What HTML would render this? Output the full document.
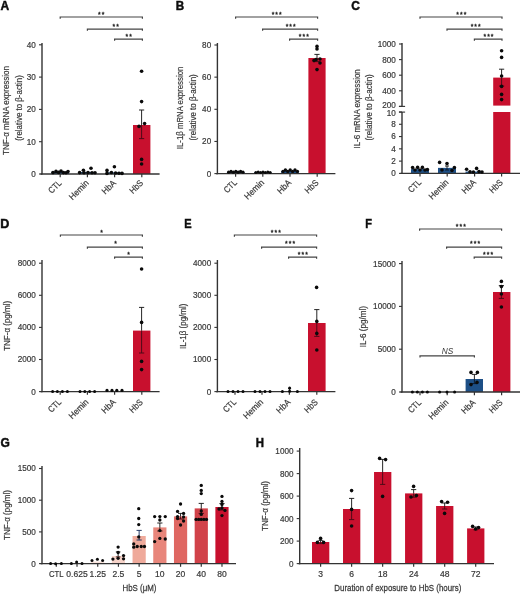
<!DOCTYPE html>
<html lang="en">
<head>
<meta charset="utf-8">
<title>Figure</title>
<style>
html,body{margin:0;padding:0;background:#fff;}
body{width:520px;height:594px;overflow:hidden;}
#fig{width:520px;height:594px;overflow:hidden;background:#fff;}
svg{display:block;font-family:"Liberation Sans",sans-serif;filter:blur(0.35px);}
</style>
</head>
<body>
<div id="fig">
<svg width="530" height="604" viewBox="0 0 530 604" role="img" aria-label="Bar charts, panels A to H">
<rect x="0" y="0" width="530" height="604" fill="#ffffff"/>
<g id="panelA">
<text transform="translate(0.5 9.75)" font-size="12" text-anchor="start" fill="#0d0d0d" font-weight="bold" stroke="#0d0d0d" stroke-width="0.45">A</text>
<rect x="51.5" y="171.74" width="17.5" height="2.26" fill="#1d4f86"/>
<rect x="78.7" y="172.06" width="17.5" height="1.94" fill="#1d4f86"/>
<rect x="105.9" y="172.38" width="17.5" height="1.62" fill="#1d4f86"/>
<rect x="133" y="125" width="17.4" height="49" fill="#c8102e"/>
<line x1="42" y1="43" x2="42" y2="174.6" stroke="#333333" stroke-width="1.4" stroke-linecap="butt"/>
<line x1="39" y1="174" x2="42" y2="174" stroke="#333333" stroke-width="1.1" stroke-linecap="butt"/>
<text transform="translate(35.8 176.9) scale(0.95 1)" font-size="8.6" text-anchor="end" fill="#383838" stroke="#383838" stroke-width="0.2">0</text>
<line x1="39" y1="141.7" x2="42" y2="141.7" stroke="#333333" stroke-width="1.1" stroke-linecap="butt"/>
<text transform="translate(35.8 144.6) scale(0.95 1)" font-size="8.6" text-anchor="end" fill="#383838" stroke="#383838" stroke-width="0.2">10</text>
<line x1="39" y1="109.4" x2="42" y2="109.4" stroke="#333333" stroke-width="1.1" stroke-linecap="butt"/>
<text transform="translate(35.8 112.3) scale(0.95 1)" font-size="8.6" text-anchor="end" fill="#383838" stroke="#383838" stroke-width="0.2">20</text>
<line x1="39" y1="77.1" x2="42" y2="77.1" stroke="#333333" stroke-width="1.1" stroke-linecap="butt"/>
<text transform="translate(35.8 80) scale(0.95 1)" font-size="8.6" text-anchor="end" fill="#383838" stroke="#383838" stroke-width="0.2">30</text>
<line x1="39" y1="44.8" x2="42" y2="44.8" stroke="#333333" stroke-width="1.1" stroke-linecap="butt"/>
<text transform="translate(35.8 47.7) scale(0.95 1)" font-size="8.6" text-anchor="end" fill="#383838" stroke="#383838" stroke-width="0.2">40</text>
<line x1="40.5" y1="174" x2="159.6" y2="174" stroke="#333333" stroke-width="1.4" stroke-linecap="butt"/>
<line x1="60.2" y1="174" x2="60.2" y2="177.2" stroke="#333333" stroke-width="1.2" stroke-linecap="butt"/>
<text transform="translate(62.1 183.6) rotate(-45) scale(0.88 1)" font-size="8.8" text-anchor="end" fill="#383838" stroke="#383838" stroke-width="0.2">CTL</text>
<line x1="87.4" y1="174" x2="87.4" y2="177.2" stroke="#333333" stroke-width="1.2" stroke-linecap="butt"/>
<text transform="translate(89.3 183.6) rotate(-45) scale(0.94 1)" font-size="8.8" text-anchor="end" fill="#383838" stroke="#383838" stroke-width="0.2">Hemin</text>
<line x1="114.6" y1="174" x2="114.6" y2="177.2" stroke="#333333" stroke-width="1.2" stroke-linecap="butt"/>
<text transform="translate(116.5 183.6) rotate(-45) scale(0.93 1)" font-size="8.8" text-anchor="end" fill="#383838" stroke="#383838" stroke-width="0.2">HbA</text>
<line x1="141.8" y1="174" x2="141.8" y2="177.2" stroke="#333333" stroke-width="1.2" stroke-linecap="butt"/>
<text transform="translate(143.7 183.6) rotate(-45) scale(0.89 1)" font-size="8.8" text-anchor="end" fill="#383838" stroke="#383838" stroke-width="0.2">HbS</text>
<line x1="141.6" y1="110" x2="141.6" y2="125" stroke="#1a1a1a" stroke-width="0.95" stroke-linecap="butt"/>
<line x1="141.6" y1="125" x2="141.6" y2="138.6" stroke="#4a0a16" stroke-width="0.95" stroke-linecap="butt"/>
<line x1="139" y1="110" x2="144.2" y2="110" stroke="#1a1a1a" stroke-width="0.95" stroke-linecap="butt"/>
<line x1="139" y1="138.6" x2="144.2" y2="138.6" stroke="#4a0a16" stroke-width="0.95" stroke-linecap="butt"/>
<circle cx="141.6" cy="71.2" r="1.8" fill="#0a0a0a"/>
<circle cx="141.6" cy="101.6" r="1.8" fill="#0a0a0a"/>
<circle cx="144.6" cy="123.6" r="1.8" fill="#0a0a0a"/>
<circle cx="139" cy="126.4" r="1.8" fill="#0a0a0a"/>
<circle cx="141.6" cy="159.4" r="1.8" fill="#0a0a0a"/>
<circle cx="141.6" cy="164" r="1.8" fill="#0a0a0a"/>
<circle cx="114.4" cy="166.8" r="1.8" fill="#0a0a0a"/>
<circle cx="107" cy="170.4" r="1.8" fill="#0a0a0a"/>
<circle cx="107" cy="173.4" r="1.8" fill="#0a0a0a"/>
<circle cx="111.4" cy="172.5" r="1.8" fill="#0a0a0a"/>
<circle cx="115.6" cy="173" r="1.8" fill="#0a0a0a"/>
<circle cx="119" cy="173.2" r="1.8" fill="#0a0a0a"/>
<circle cx="122" cy="173.4" r="1.8" fill="#0a0a0a"/>
<circle cx="91" cy="168.2" r="1.8" fill="#0a0a0a"/>
<circle cx="83.4" cy="170.2" r="1.8" fill="#0a0a0a"/>
<circle cx="79.6" cy="172.6" r="1.8" fill="#0a0a0a"/>
<circle cx="84" cy="172.8" r="1.8" fill="#0a0a0a"/>
<circle cx="88" cy="172.6" r="1.8" fill="#0a0a0a"/>
<circle cx="92" cy="172.8" r="1.8" fill="#0a0a0a"/>
<circle cx="95" cy="172.8" r="1.8" fill="#0a0a0a"/>
<circle cx="53" cy="172.6" r="1.8" fill="#0a0a0a"/>
<circle cx="56" cy="171.4" r="1.8" fill="#0a0a0a"/>
<circle cx="58.6" cy="172.4" r="1.8" fill="#0a0a0a"/>
<circle cx="61" cy="171" r="1.8" fill="#0a0a0a"/>
<circle cx="63.4" cy="172.6" r="1.8" fill="#0a0a0a"/>
<circle cx="66" cy="172.8" r="1.8" fill="#0a0a0a"/>
<circle cx="68" cy="171.6" r="1.8" fill="#0a0a0a"/>
<path d="M60.2 18.7V17H142.4V18.7" fill="none" stroke="#444444" stroke-width="1.2"/>
<text x="101.8" y="16.99" font-size="6.8" text-anchor="middle" letter-spacing="1.05" fill="#222" stroke="#222" stroke-width="0.3">**</text>
<path d="M87.4 30.8V29.1H142.4V30.8" fill="none" stroke="#444444" stroke-width="1.2"/>
<text x="116.2" y="28.59" font-size="6.8" text-anchor="middle" letter-spacing="1.05" fill="#222" stroke="#222" stroke-width="0.3">**</text>
<path d="M114.6 40.8V39.1H142.4V40.8" fill="none" stroke="#444444" stroke-width="1.2"/>
<text x="129.2" y="38.99" font-size="6.8" text-anchor="middle" letter-spacing="1.05" fill="#222" stroke="#222" stroke-width="0.3">**</text>
<text transform="translate(9.3 110.5) rotate(-90) scale(0.87 1)" font-size="9.2" text-anchor="middle" fill="#383838" stroke="#383838" stroke-width="0.2">TNF-α mRNA expression</text>
<text transform="translate(21.6 108) rotate(-90) scale(0.86 1)" font-size="9.2" text-anchor="middle" fill="#383838" stroke="#383838" stroke-width="0.2">(relative to β-actin)</text>
</g>
<g id="panelB">
<text transform="translate(175.7 9.75) scale(0.97 1)" font-size="12" text-anchor="start" fill="#0d0d0d" font-weight="bold" stroke="#0d0d0d" stroke-width="0.45">B</text>
<rect x="226.9" y="171.99" width="17.5" height="1.61" fill="#1d4f86"/>
<rect x="254" y="172.31" width="17.5" height="1.29" fill="#1d4f86"/>
<rect x="281.2" y="171.03" width="17.5" height="2.57" fill="#1d4f86"/>
<rect x="308.4" y="58" width="17.2" height="115.6" fill="#c8102e"/>
<line x1="217.4" y1="43" x2="217.4" y2="174.2" stroke="#333333" stroke-width="1.4" stroke-linecap="butt"/>
<line x1="214.4" y1="173.6" x2="217.4" y2="173.6" stroke="#333333" stroke-width="1.1" stroke-linecap="butt"/>
<text transform="translate(211.2 176.5) scale(0.95 1)" font-size="8.6" text-anchor="end" fill="#383838" stroke="#383838" stroke-width="0.2">0</text>
<line x1="214.4" y1="141.45" x2="217.4" y2="141.45" stroke="#333333" stroke-width="1.1" stroke-linecap="butt"/>
<text transform="translate(211.2 144.35) scale(0.95 1)" font-size="8.6" text-anchor="end" fill="#383838" stroke="#383838" stroke-width="0.2">20</text>
<line x1="214.4" y1="109.3" x2="217.4" y2="109.3" stroke="#333333" stroke-width="1.1" stroke-linecap="butt"/>
<text transform="translate(211.2 112.2) scale(0.95 1)" font-size="8.6" text-anchor="end" fill="#383838" stroke="#383838" stroke-width="0.2">40</text>
<line x1="214.4" y1="77.15" x2="217.4" y2="77.15" stroke="#333333" stroke-width="1.1" stroke-linecap="butt"/>
<text transform="translate(211.2 80.05) scale(0.95 1)" font-size="8.6" text-anchor="end" fill="#383838" stroke="#383838" stroke-width="0.2">60</text>
<line x1="214.4" y1="45" x2="217.4" y2="45" stroke="#333333" stroke-width="1.1" stroke-linecap="butt"/>
<text transform="translate(211.2 47.9) scale(0.95 1)" font-size="8.6" text-anchor="end" fill="#383838" stroke="#383838" stroke-width="0.2">80</text>
<line x1="216" y1="173.6" x2="335.4" y2="173.6" stroke="#333333" stroke-width="1.4" stroke-linecap="butt"/>
<line x1="235.6" y1="173.6" x2="235.6" y2="176.8" stroke="#333333" stroke-width="1.2" stroke-linecap="butt"/>
<text transform="translate(237.5 183.2) rotate(-45) scale(0.88 1)" font-size="8.8" text-anchor="end" fill="#383838" stroke="#383838" stroke-width="0.2">CTL</text>
<line x1="262.8" y1="173.6" x2="262.8" y2="176.8" stroke="#333333" stroke-width="1.2" stroke-linecap="butt"/>
<text transform="translate(264.7 183.2) rotate(-45) scale(0.94 1)" font-size="8.8" text-anchor="end" fill="#383838" stroke="#383838" stroke-width="0.2">Hemin</text>
<line x1="290" y1="173.6" x2="290" y2="176.8" stroke="#333333" stroke-width="1.2" stroke-linecap="butt"/>
<text transform="translate(291.9 183.2) rotate(-45) scale(0.93 1)" font-size="8.8" text-anchor="end" fill="#383838" stroke="#383838" stroke-width="0.2">HbA</text>
<line x1="317.2" y1="173.6" x2="317.2" y2="176.8" stroke="#333333" stroke-width="1.2" stroke-linecap="butt"/>
<text transform="translate(319.1 183.2) rotate(-45) scale(0.89 1)" font-size="8.8" text-anchor="end" fill="#383838" stroke="#383838" stroke-width="0.2">HbS</text>
<line x1="317" y1="54.4" x2="317" y2="58" stroke="#1a1a1a" stroke-width="0.95" stroke-linecap="butt"/>
<line x1="317" y1="58" x2="317" y2="61.6" stroke="#4a0a16" stroke-width="0.95" stroke-linecap="butt"/>
<line x1="314.4" y1="54.4" x2="319.6" y2="54.4" stroke="#1a1a1a" stroke-width="0.95" stroke-linecap="butt"/>
<line x1="314.4" y1="61.6" x2="319.6" y2="61.6" stroke="#4a0a16" stroke-width="0.95" stroke-linecap="butt"/>
<circle cx="317" cy="46.4" r="1.8" fill="#0a0a0a"/>
<circle cx="317" cy="49" r="1.8" fill="#0a0a0a"/>
<circle cx="316" cy="59.6" r="1.8" fill="#0a0a0a"/>
<circle cx="320" cy="59" r="1.8" fill="#0a0a0a"/>
<circle cx="314" cy="60.6" r="1.8" fill="#0a0a0a"/>
<circle cx="320" cy="63" r="1.8" fill="#0a0a0a"/>
<circle cx="317" cy="69.6" r="1.8" fill="#0a0a0a"/>
<circle cx="228.6" cy="172.2" r="1.6" fill="#0a0a0a"/>
<circle cx="255.8" cy="172.6" r="1.5" fill="#0a0a0a"/>
<circle cx="283" cy="171.4" r="1.7" fill="#0a0a0a"/>
<circle cx="231" cy="171.4" r="1.6" fill="#0a0a0a"/>
<circle cx="258.2" cy="172.1" r="1.5" fill="#0a0a0a"/>
<circle cx="285.4" cy="170" r="1.7" fill="#0a0a0a"/>
<circle cx="233.4" cy="172.2" r="1.6" fill="#0a0a0a"/>
<circle cx="260.6" cy="172.6" r="1.5" fill="#0a0a0a"/>
<circle cx="287.8" cy="171.4" r="1.7" fill="#0a0a0a"/>
<circle cx="235.8" cy="171.4" r="1.6" fill="#0a0a0a"/>
<circle cx="263" cy="172.1" r="1.5" fill="#0a0a0a"/>
<circle cx="290.2" cy="170" r="1.7" fill="#0a0a0a"/>
<circle cx="238.2" cy="172.2" r="1.6" fill="#0a0a0a"/>
<circle cx="265.4" cy="172.6" r="1.5" fill="#0a0a0a"/>
<circle cx="292.6" cy="171.4" r="1.7" fill="#0a0a0a"/>
<circle cx="240.6" cy="171.4" r="1.6" fill="#0a0a0a"/>
<circle cx="267.8" cy="172.1" r="1.5" fill="#0a0a0a"/>
<circle cx="295" cy="170" r="1.7" fill="#0a0a0a"/>
<circle cx="243" cy="172.2" r="1.6" fill="#0a0a0a"/>
<circle cx="270.2" cy="172.6" r="1.5" fill="#0a0a0a"/>
<circle cx="297.4" cy="171.4" r="1.7" fill="#0a0a0a"/>
<path d="M235.6 18.7V17H317.6V18.7" fill="none" stroke="#444444" stroke-width="1.2"/>
<text x="277.2" y="16.99" font-size="6.8" text-anchor="middle" letter-spacing="1.05" fill="#222" stroke="#222" stroke-width="0.3">***</text>
<path d="M262.6 30.8V29.1H317.6V30.8" fill="none" stroke="#444444" stroke-width="1.2"/>
<text x="291.2" y="28.59" font-size="6.8" text-anchor="middle" letter-spacing="1.05" fill="#222" stroke="#222" stroke-width="0.3">***</text>
<path d="M289.6 40.8V39.1H317.6V40.8" fill="none" stroke="#444444" stroke-width="1.2"/>
<text x="304.4" y="38.99" font-size="6.8" text-anchor="middle" letter-spacing="1.05" fill="#222" stroke="#222" stroke-width="0.3">***</text>
<text transform="translate(183.1 107.95) rotate(-90) scale(0.85 1)" font-size="9.2" text-anchor="middle" fill="#383838" stroke="#383838" stroke-width="0.2">IL-1β mRNA expression</text>
<text transform="translate(195.9 107.4) rotate(-90) scale(0.87 1)" font-size="9.2" text-anchor="middle" fill="#383838" stroke="#383838" stroke-width="0.2">(relative to β-actin)</text>
</g>
<g id="panelC">
<text transform="translate(351.2 9.75)" font-size="12" text-anchor="start" fill="#0d0d0d" font-weight="bold" stroke="#0d0d0d" stroke-width="0.45">C</text>
<rect x="411" y="169.1" width="18" height="4.3" fill="#1d4f86"/>
<rect x="438" y="167.87" width="18" height="5.53" fill="#1d4f86"/>
<rect x="465.5" y="171.56" width="17.5" height="1.84" fill="#1d4f86"/>
<rect x="493.2" y="77.6" width="17.2" height="28" fill="#c8102e"/>
<rect x="493.2" y="112" width="17.2" height="61.4" fill="#c8102e"/>
<line x1="402" y1="43" x2="402" y2="106.4" stroke="#333333" stroke-width="1.4" stroke-linecap="butt"/>
<line x1="399" y1="44" x2="402" y2="44" stroke="#333333" stroke-width="1.1" stroke-linecap="butt"/>
<text transform="translate(395.8 46.9) scale(0.95 1)" font-size="8.6" text-anchor="end" fill="#383838" stroke="#383838" stroke-width="0.2">1000</text>
<line x1="399" y1="59.6" x2="402" y2="59.6" stroke="#333333" stroke-width="1.1" stroke-linecap="butt"/>
<text transform="translate(395.8 62.5) scale(0.95 1)" font-size="8.6" text-anchor="end" fill="#383838" stroke="#383838" stroke-width="0.2">800</text>
<line x1="399" y1="75.2" x2="402" y2="75.2" stroke="#333333" stroke-width="1.1" stroke-linecap="butt"/>
<text transform="translate(395.8 78.1) scale(0.95 1)" font-size="8.6" text-anchor="end" fill="#383838" stroke="#383838" stroke-width="0.2">600</text>
<line x1="399" y1="90.8" x2="402" y2="90.8" stroke="#333333" stroke-width="1.1" stroke-linecap="butt"/>
<text transform="translate(395.8 93.7) scale(0.95 1)" font-size="8.6" text-anchor="end" fill="#383838" stroke="#383838" stroke-width="0.2">400</text>
<line x1="399" y1="106.4" x2="402" y2="106.4" stroke="#333333" stroke-width="1.1" stroke-linecap="butt"/>
<text transform="translate(395.8 108.2) scale(0.95 1)" font-size="8.6" text-anchor="end" fill="#383838" stroke="#383838" stroke-width="0.2">200</text>
<line x1="398.9" y1="106.4" x2="405.1" y2="106.4" stroke="#333333" stroke-width="1.1" stroke-linecap="butt"/>
<line x1="398.9" y1="112.1" x2="405.1" y2="112.1" stroke="#333333" stroke-width="1.1" stroke-linecap="butt"/>
<line x1="402" y1="112" x2="402" y2="174" stroke="#333333" stroke-width="1.4" stroke-linecap="butt"/>
<line x1="399" y1="173.4" x2="402" y2="173.4" stroke="#333333" stroke-width="1.1" stroke-linecap="butt"/>
<text transform="translate(395.8 176.3) scale(0.95 1)" font-size="8.6" text-anchor="end" fill="#383838" stroke="#383838" stroke-width="0.2">0</text>
<line x1="399" y1="161.12" x2="402" y2="161.12" stroke="#333333" stroke-width="1.1" stroke-linecap="butt"/>
<text transform="translate(395.8 164.02) scale(0.95 1)" font-size="8.6" text-anchor="end" fill="#383838" stroke="#383838" stroke-width="0.2">2</text>
<line x1="399" y1="148.84" x2="402" y2="148.84" stroke="#333333" stroke-width="1.1" stroke-linecap="butt"/>
<text transform="translate(395.8 151.74) scale(0.95 1)" font-size="8.6" text-anchor="end" fill="#383838" stroke="#383838" stroke-width="0.2">4</text>
<line x1="399" y1="136.56" x2="402" y2="136.56" stroke="#333333" stroke-width="1.1" stroke-linecap="butt"/>
<text transform="translate(395.8 139.46) scale(0.95 1)" font-size="8.6" text-anchor="end" fill="#383838" stroke="#383838" stroke-width="0.2">6</text>
<line x1="399" y1="124.28" x2="402" y2="124.28" stroke="#333333" stroke-width="1.1" stroke-linecap="butt"/>
<text transform="translate(395.8 127.18) scale(0.95 1)" font-size="8.6" text-anchor="end" fill="#383838" stroke="#383838" stroke-width="0.2">8</text>
<line x1="399" y1="112" x2="402" y2="112" stroke="#333333" stroke-width="1.1" stroke-linecap="butt"/>
<text transform="translate(395.8 115.6) scale(0.95 1)" font-size="8.6" text-anchor="end" fill="#383838" stroke="#383838" stroke-width="0.2">10</text>
<line x1="400.5" y1="173.4" x2="526" y2="173.4" stroke="#333333" stroke-width="1.4" stroke-linecap="butt"/>
<line x1="420" y1="173.4" x2="420" y2="176.6" stroke="#333333" stroke-width="1.2" stroke-linecap="butt"/>
<text transform="translate(421.9 183) rotate(-45) scale(0.88 1)" font-size="8.8" text-anchor="end" fill="#383838" stroke="#383838" stroke-width="0.2">CTL</text>
<line x1="447.2" y1="173.4" x2="447.2" y2="176.6" stroke="#333333" stroke-width="1.2" stroke-linecap="butt"/>
<text transform="translate(449.1 183) rotate(-45) scale(0.94 1)" font-size="8.8" text-anchor="end" fill="#383838" stroke="#383838" stroke-width="0.2">Hemin</text>
<line x1="474.6" y1="173.4" x2="474.6" y2="176.6" stroke="#333333" stroke-width="1.2" stroke-linecap="butt"/>
<text transform="translate(476.5 183) rotate(-45) scale(0.93 1)" font-size="8.8" text-anchor="end" fill="#383838" stroke="#383838" stroke-width="0.2">HbA</text>
<line x1="501.6" y1="173.4" x2="501.6" y2="176.6" stroke="#333333" stroke-width="1.2" stroke-linecap="butt"/>
<text transform="translate(503.5 183) rotate(-45) scale(0.89 1)" font-size="8.8" text-anchor="end" fill="#383838" stroke="#383838" stroke-width="0.2">HbS</text>
<line x1="501.6" y1="69.2" x2="501.6" y2="77.6" stroke="#1a1a1a" stroke-width="0.95" stroke-linecap="butt"/>
<line x1="501.6" y1="77.6" x2="501.6" y2="86" stroke="#4a0a16" stroke-width="0.95" stroke-linecap="butt"/>
<line x1="499" y1="69.2" x2="504.2" y2="69.2" stroke="#1a1a1a" stroke-width="0.95" stroke-linecap="butt"/>
<line x1="499" y1="86" x2="504.2" y2="86" stroke="#4a0a16" stroke-width="0.95" stroke-linecap="butt"/>
<circle cx="501.6" cy="50.8" r="1.8" fill="#0a0a0a"/>
<circle cx="501.6" cy="57.4" r="1.8" fill="#0a0a0a"/>
<circle cx="501.6" cy="76" r="1.8" fill="#0a0a0a"/>
<circle cx="501.6" cy="86.4" r="1.8" fill="#0a0a0a"/>
<circle cx="501.6" cy="94.4" r="1.8" fill="#0a0a0a"/>
<circle cx="501.6" cy="99.6" r="1.8" fill="#0a0a0a"/>
<line x1="447" y1="166" x2="447" y2="167.87" stroke="#1a1a1a" stroke-width="0.95" stroke-linecap="butt"/>
<line x1="447" y1="167.87" x2="447" y2="170" stroke="#0c1a2c" stroke-width="0.95" stroke-linecap="butt"/>
<line x1="445" y1="166" x2="449" y2="166" stroke="#1a1a1a" stroke-width="0.95" stroke-linecap="butt"/>
<line x1="445" y1="170" x2="449" y2="170" stroke="#0c1a2c" stroke-width="0.95" stroke-linecap="butt"/>
<circle cx="439.6" cy="162.4" r="1.8" fill="#0a0a0a"/>
<circle cx="447" cy="163.6" r="1.8" fill="#0a0a0a"/>
<circle cx="454.4" cy="167.6" r="1.8" fill="#0a0a0a"/>
<circle cx="442" cy="170" r="1.8" fill="#0a0a0a"/>
<circle cx="452" cy="170.5" r="1.8" fill="#0a0a0a"/>
<circle cx="466.6" cy="169.2" r="1.8" fill="#0a0a0a"/>
<circle cx="476.6" cy="168.4" r="1.8" fill="#0a0a0a"/>
<circle cx="470" cy="171.8" r="1.8" fill="#0a0a0a"/>
<circle cx="473.4" cy="172" r="1.8" fill="#0a0a0a"/>
<circle cx="479" cy="171.6" r="1.8" fill="#0a0a0a"/>
<circle cx="482" cy="172" r="1.8" fill="#0a0a0a"/>
<circle cx="412.6" cy="167.6" r="1.8" fill="#0a0a0a"/>
<circle cx="417.6" cy="167.4" r="1.8" fill="#0a0a0a"/>
<circle cx="422.4" cy="167.4" r="1.8" fill="#0a0a0a"/>
<circle cx="427.4" cy="169.6" r="1.8" fill="#0a0a0a"/>
<circle cx="415" cy="170" r="1.8" fill="#0a0a0a"/>
<circle cx="420" cy="170" r="1.8" fill="#0a0a0a"/>
<circle cx="425" cy="170" r="1.8" fill="#0a0a0a"/>
<path d="M420 18.7V17H502V18.7" fill="none" stroke="#444444" stroke-width="1.2"/>
<text x="461.8" y="16.99" font-size="6.8" text-anchor="middle" letter-spacing="1.05" fill="#222" stroke="#222" stroke-width="0.3">***</text>
<path d="M447 30.8V29.1H502V30.8" fill="none" stroke="#444444" stroke-width="1.2"/>
<text x="476.2" y="28.59" font-size="6.8" text-anchor="middle" letter-spacing="1.05" fill="#222" stroke="#222" stroke-width="0.3">***</text>
<path d="M474.4 40.8V39.1H502V40.8" fill="none" stroke="#444444" stroke-width="1.2"/>
<text x="489" y="38.99" font-size="6.8" text-anchor="middle" letter-spacing="1.05" fill="#222" stroke="#222" stroke-width="0.3">***</text>
<text transform="translate(359.6 108.85) rotate(-90) scale(0.86 1)" font-size="9.2" text-anchor="middle" fill="#383838" stroke="#383838" stroke-width="0.2">IL-6 mRNA expression</text>
<text transform="translate(371.5 107.4) rotate(-90) scale(0.87 1)" font-size="9.2" text-anchor="middle" fill="#383838" stroke="#383838" stroke-width="0.2">(relative to β-actin)</text>
</g>
<g id="panelD">
<text transform="translate(0.3 227.75) scale(1.05 1)" font-size="12" text-anchor="start" fill="#0d0d0d" font-weight="bold" stroke="#0d0d0d" stroke-width="0.45">D</text>
<rect x="133" y="330.6" width="17.4" height="61" fill="#c8102e"/>
<line x1="42" y1="260" x2="42" y2="392.2" stroke="#333333" stroke-width="1.4" stroke-linecap="butt"/>
<line x1="39" y1="391.6" x2="42" y2="391.6" stroke="#333333" stroke-width="1.1" stroke-linecap="butt"/>
<text transform="translate(35.8 394.5) scale(0.95 1)" font-size="8.6" text-anchor="end" fill="#383838" stroke="#383838" stroke-width="0.2">0</text>
<line x1="39" y1="359.5" x2="42" y2="359.5" stroke="#333333" stroke-width="1.1" stroke-linecap="butt"/>
<text transform="translate(35.8 362.4) scale(0.95 1)" font-size="8.6" text-anchor="end" fill="#383838" stroke="#383838" stroke-width="0.2">2000</text>
<line x1="39" y1="327.4" x2="42" y2="327.4" stroke="#333333" stroke-width="1.1" stroke-linecap="butt"/>
<text transform="translate(35.8 330.3) scale(0.95 1)" font-size="8.6" text-anchor="end" fill="#383838" stroke="#383838" stroke-width="0.2">4000</text>
<line x1="39" y1="295.3" x2="42" y2="295.3" stroke="#333333" stroke-width="1.1" stroke-linecap="butt"/>
<text transform="translate(35.8 298.2) scale(0.95 1)" font-size="8.6" text-anchor="end" fill="#383838" stroke="#383838" stroke-width="0.2">6000</text>
<line x1="39" y1="263.2" x2="42" y2="263.2" stroke="#333333" stroke-width="1.1" stroke-linecap="butt"/>
<text transform="translate(35.8 266.1) scale(0.95 1)" font-size="8.6" text-anchor="end" fill="#383838" stroke="#383838" stroke-width="0.2">8000</text>
<line x1="40.5" y1="391.6" x2="159.6" y2="391.6" stroke="#333333" stroke-width="1.4" stroke-linecap="butt"/>
<line x1="60.2" y1="391.6" x2="60.2" y2="394.8" stroke="#333333" stroke-width="1.2" stroke-linecap="butt"/>
<text transform="translate(61.9 402.7) rotate(-45) scale(0.88 1)" font-size="8.8" text-anchor="end" fill="#383838" stroke="#383838" stroke-width="0.2">CTL</text>
<line x1="87.4" y1="391.6" x2="87.4" y2="394.8" stroke="#333333" stroke-width="1.2" stroke-linecap="butt"/>
<text transform="translate(89.1 402.7) rotate(-45) scale(0.94 1)" font-size="8.8" text-anchor="end" fill="#383838" stroke="#383838" stroke-width="0.2">Hemin</text>
<line x1="114.6" y1="391.6" x2="114.6" y2="394.8" stroke="#333333" stroke-width="1.2" stroke-linecap="butt"/>
<text transform="translate(116.3 402.7) rotate(-45) scale(0.93 1)" font-size="8.8" text-anchor="end" fill="#383838" stroke="#383838" stroke-width="0.2">HbA</text>
<line x1="141.8" y1="391.6" x2="141.8" y2="394.8" stroke="#333333" stroke-width="1.2" stroke-linecap="butt"/>
<text transform="translate(143.5 402.7) rotate(-45) scale(0.89 1)" font-size="8.8" text-anchor="end" fill="#383838" stroke="#383838" stroke-width="0.2">HbS</text>
<line x1="141.6" y1="307.4" x2="141.6" y2="330.6" stroke="#1a1a1a" stroke-width="0.95" stroke-linecap="butt"/>
<line x1="141.6" y1="330.6" x2="141.6" y2="353" stroke="#4a0a16" stroke-width="0.95" stroke-linecap="butt"/>
<line x1="139" y1="307.4" x2="144.2" y2="307.4" stroke="#1a1a1a" stroke-width="0.95" stroke-linecap="butt"/>
<line x1="139" y1="353" x2="144.2" y2="353" stroke="#4a0a16" stroke-width="0.95" stroke-linecap="butt"/>
<circle cx="141.6" cy="269" r="1.8" fill="#0a0a0a"/>
<circle cx="141.6" cy="322.4" r="1.8" fill="#0a0a0a"/>
<circle cx="141.6" cy="361.4" r="1.8" fill="#0a0a0a"/>
<circle cx="141.6" cy="369.6" r="1.8" fill="#0a0a0a"/>
<circle cx="52.6" cy="391.6" r="1.5" fill="#0a0a0a"/>
<circle cx="57.4" cy="391.6" r="1.5" fill="#0a0a0a"/>
<circle cx="62.4" cy="391.6" r="1.5" fill="#0a0a0a"/>
<circle cx="67.4" cy="391.6" r="1.5" fill="#0a0a0a"/>
<circle cx="80" cy="391.6" r="1.5" fill="#0a0a0a"/>
<circle cx="84.8" cy="391.6" r="1.5" fill="#0a0a0a"/>
<circle cx="89.6" cy="391.6" r="1.5" fill="#0a0a0a"/>
<circle cx="94.6" cy="391.6" r="1.5" fill="#0a0a0a"/>
<circle cx="107" cy="390.4" r="1.6" fill="#0a0a0a"/>
<circle cx="112" cy="390.4" r="1.6" fill="#0a0a0a"/>
<circle cx="116.8" cy="390.4" r="1.6" fill="#0a0a0a"/>
<circle cx="122" cy="390.4" r="1.6" fill="#0a0a0a"/>
<path d="M60.4 236.7V235H142.4V236.7" fill="none" stroke="#444444" stroke-width="1.2"/>
<text x="102" y="234.79" font-size="6.8" text-anchor="middle" letter-spacing="1.05" fill="#222" stroke="#222" stroke-width="0.3">*</text>
<path d="M87.4 248.8V247.1H142.4V248.8" fill="none" stroke="#444444" stroke-width="1.2"/>
<text x="116.2" y="246.39" font-size="6.8" text-anchor="middle" letter-spacing="1.05" fill="#222" stroke="#222" stroke-width="0.3">*</text>
<path d="M114.6 258.8V257.1H142.4V258.8" fill="none" stroke="#444444" stroke-width="1.2"/>
<text x="129.2" y="256.89" font-size="6.8" text-anchor="middle" letter-spacing="1.05" fill="#222" stroke="#222" stroke-width="0.3">*</text>
<text transform="translate(9.8 325.85) rotate(-90) scale(0.87 1)" font-size="9.2" text-anchor="middle" fill="#383838" stroke="#383838" stroke-width="0.2">TNF-α (pg/ml)</text>
</g>
<g id="panelE">
<text transform="translate(184.3 227.75) scale(0.92 1)" font-size="12" text-anchor="start" fill="#0d0d0d" font-weight="bold" stroke="#0d0d0d" stroke-width="0.45">E</text>
<rect x="308" y="323" width="17.6" height="68.6" fill="#c8102e"/>
<line x1="217.4" y1="260" x2="217.4" y2="392.2" stroke="#333333" stroke-width="1.4" stroke-linecap="butt"/>
<line x1="214.4" y1="391.6" x2="217.4" y2="391.6" stroke="#333333" stroke-width="1.1" stroke-linecap="butt"/>
<text transform="translate(211.2 394.5) scale(0.95 1)" font-size="8.6" text-anchor="end" fill="#383838" stroke="#383838" stroke-width="0.2">0</text>
<line x1="214.4" y1="359.5" x2="217.4" y2="359.5" stroke="#333333" stroke-width="1.1" stroke-linecap="butt"/>
<text transform="translate(211.2 362.4) scale(0.95 1)" font-size="8.6" text-anchor="end" fill="#383838" stroke="#383838" stroke-width="0.2">1000</text>
<line x1="214.4" y1="327.4" x2="217.4" y2="327.4" stroke="#333333" stroke-width="1.1" stroke-linecap="butt"/>
<text transform="translate(211.2 330.3) scale(0.95 1)" font-size="8.6" text-anchor="end" fill="#383838" stroke="#383838" stroke-width="0.2">2000</text>
<line x1="214.4" y1="295.3" x2="217.4" y2="295.3" stroke="#333333" stroke-width="1.1" stroke-linecap="butt"/>
<text transform="translate(211.2 298.2) scale(0.95 1)" font-size="8.6" text-anchor="end" fill="#383838" stroke="#383838" stroke-width="0.2">3000</text>
<line x1="214.4" y1="263.2" x2="217.4" y2="263.2" stroke="#333333" stroke-width="1.1" stroke-linecap="butt"/>
<text transform="translate(211.2 266.1) scale(0.95 1)" font-size="8.6" text-anchor="end" fill="#383838" stroke="#383838" stroke-width="0.2">4000</text>
<line x1="216" y1="391.6" x2="335.4" y2="391.6" stroke="#333333" stroke-width="1.4" stroke-linecap="butt"/>
<line x1="235" y1="391.6" x2="235" y2="394.8" stroke="#333333" stroke-width="1.2" stroke-linecap="butt"/>
<text transform="translate(236.7 402.7) rotate(-45) scale(0.88 1)" font-size="8.8" text-anchor="end" fill="#383838" stroke="#383838" stroke-width="0.2">CTL</text>
<line x1="262" y1="391.6" x2="262" y2="394.8" stroke="#333333" stroke-width="1.2" stroke-linecap="butt"/>
<text transform="translate(263.7 402.7) rotate(-45) scale(0.94 1)" font-size="8.8" text-anchor="end" fill="#383838" stroke="#383838" stroke-width="0.2">Hemin</text>
<line x1="289.4" y1="391.6" x2="289.4" y2="394.8" stroke="#333333" stroke-width="1.2" stroke-linecap="butt"/>
<text transform="translate(291.1 402.7) rotate(-45) scale(0.93 1)" font-size="8.8" text-anchor="end" fill="#383838" stroke="#383838" stroke-width="0.2">HbA</text>
<line x1="316.8" y1="391.6" x2="316.8" y2="394.8" stroke="#333333" stroke-width="1.2" stroke-linecap="butt"/>
<text transform="translate(318.5 402.7) rotate(-45) scale(0.89 1)" font-size="8.8" text-anchor="end" fill="#383838" stroke="#383838" stroke-width="0.2">HbS</text>
<line x1="316.8" y1="309.6" x2="316.8" y2="323" stroke="#1a1a1a" stroke-width="0.95" stroke-linecap="butt"/>
<line x1="316.8" y1="323" x2="316.8" y2="336.4" stroke="#4a0a16" stroke-width="0.95" stroke-linecap="butt"/>
<line x1="314.2" y1="309.6" x2="319.4" y2="309.6" stroke="#1a1a1a" stroke-width="0.95" stroke-linecap="butt"/>
<line x1="314.2" y1="336.4" x2="319.4" y2="336.4" stroke="#4a0a16" stroke-width="0.95" stroke-linecap="butt"/>
<line x1="289.6" y1="388.6" x2="289.6" y2="391.4" stroke="#1a1a1a" stroke-width="0.95" stroke-linecap="butt"/>
<line x1="288.1" y1="388.6" x2="291.1" y2="388.6" stroke="#1a1a1a" stroke-width="0.95" stroke-linecap="butt"/>
<line x1="288.1" y1="391.4" x2="291.1" y2="391.4" stroke="#1a1a1a" stroke-width="0.95" stroke-linecap="butt"/>
<circle cx="316.6" cy="287.4" r="1.8" fill="#0a0a0a"/>
<circle cx="316.8" cy="321.4" r="1.8" fill="#0a0a0a"/>
<circle cx="316.8" cy="333.4" r="1.8" fill="#0a0a0a"/>
<circle cx="316.8" cy="350" r="1.8" fill="#0a0a0a"/>
<circle cx="228" cy="391.6" r="1.5" fill="#0a0a0a"/>
<circle cx="233" cy="391.6" r="1.5" fill="#0a0a0a"/>
<circle cx="238" cy="391.6" r="1.5" fill="#0a0a0a"/>
<circle cx="243" cy="391.6" r="1.5" fill="#0a0a0a"/>
<circle cx="255" cy="391.6" r="1.5" fill="#0a0a0a"/>
<circle cx="260" cy="391.6" r="1.5" fill="#0a0a0a"/>
<circle cx="265" cy="391.6" r="1.5" fill="#0a0a0a"/>
<circle cx="270" cy="391.6" r="1.5" fill="#0a0a0a"/>
<circle cx="282.4" cy="391.6" r="1.5" fill="#0a0a0a"/>
<circle cx="289.6" cy="388" r="1.5" fill="#0a0a0a"/>
<circle cx="289.6" cy="391.2" r="1.5" fill="#0a0a0a"/>
<circle cx="297.4" cy="391.6" r="1.5" fill="#0a0a0a"/>
<path d="M234.4 236.7V235H316.6V236.7" fill="none" stroke="#444444" stroke-width="1.2"/>
<text x="276.4" y="234.79" font-size="6.8" text-anchor="middle" letter-spacing="1.05" fill="#222" stroke="#222" stroke-width="0.3">***</text>
<path d="M261.6 248.8V247.1H316.6V248.8" fill="none" stroke="#444444" stroke-width="1.2"/>
<text x="290.6" y="246.39" font-size="6.8" text-anchor="middle" letter-spacing="1.05" fill="#222" stroke="#222" stroke-width="0.3">***</text>
<path d="M288.6 258.8V257.1H316.6V258.8" fill="none" stroke="#444444" stroke-width="1.2"/>
<text x="303.4" y="256.89" font-size="6.8" text-anchor="middle" letter-spacing="1.05" fill="#222" stroke="#222" stroke-width="0.3">***</text>
<text transform="translate(186.3 326.3) rotate(-90) scale(0.87 1)" font-size="9.2" text-anchor="middle" fill="#383838" stroke="#383838" stroke-width="0.2">IL-1β (pg/ml)</text>
</g>
<g id="panelF">
<text transform="translate(365.3 227.75) scale(0.92 1)" font-size="12" text-anchor="start" fill="#0d0d0d" font-weight="bold" stroke="#0d0d0d" stroke-width="0.45">F</text>
<rect x="465.6" y="379" width="17.4" height="13" fill="#1d4f86"/>
<rect x="493" y="292" width="17.4" height="100" fill="#c8102e"/>
<line x1="402" y1="261" x2="402" y2="392.6" stroke="#333333" stroke-width="1.4" stroke-linecap="butt"/>
<line x1="399" y1="392" x2="402" y2="392" stroke="#333333" stroke-width="1.1" stroke-linecap="butt"/>
<text transform="translate(395.8 394.9) scale(0.95 1)" font-size="8.6" text-anchor="end" fill="#383838" stroke="#383838" stroke-width="0.2">0</text>
<line x1="399" y1="349.2" x2="402" y2="349.2" stroke="#333333" stroke-width="1.1" stroke-linecap="butt"/>
<text transform="translate(395.8 352.1) scale(0.95 1)" font-size="8.6" text-anchor="end" fill="#383838" stroke="#383838" stroke-width="0.2">5000</text>
<line x1="399" y1="306.4" x2="402" y2="306.4" stroke="#333333" stroke-width="1.1" stroke-linecap="butt"/>
<text transform="translate(395.8 309.3) scale(0.95 1)" font-size="8.6" text-anchor="end" fill="#383838" stroke="#383838" stroke-width="0.2">10000</text>
<line x1="399" y1="263.6" x2="402" y2="263.6" stroke="#333333" stroke-width="1.1" stroke-linecap="butt"/>
<text transform="translate(395.8 266.5) scale(0.95 1)" font-size="8.6" text-anchor="end" fill="#383838" stroke="#383838" stroke-width="0.2">15000</text>
<line x1="400.5" y1="392" x2="526" y2="392" stroke="#333333" stroke-width="1.4" stroke-linecap="butt"/>
<line x1="420" y1="392" x2="420" y2="395.2" stroke="#333333" stroke-width="1.2" stroke-linecap="butt"/>
<text transform="translate(421.7 403.1) rotate(-45) scale(0.88 1)" font-size="8.8" text-anchor="end" fill="#383838" stroke="#383838" stroke-width="0.2">CTL</text>
<line x1="447.2" y1="392" x2="447.2" y2="395.2" stroke="#333333" stroke-width="1.2" stroke-linecap="butt"/>
<text transform="translate(448.9 403.1) rotate(-45) scale(0.94 1)" font-size="8.8" text-anchor="end" fill="#383838" stroke="#383838" stroke-width="0.2">Hemin</text>
<line x1="474.4" y1="392" x2="474.4" y2="395.2" stroke="#333333" stroke-width="1.2" stroke-linecap="butt"/>
<text transform="translate(476.1 403.1) rotate(-45) scale(0.93 1)" font-size="8.8" text-anchor="end" fill="#383838" stroke="#383838" stroke-width="0.2">HbA</text>
<line x1="501.6" y1="392" x2="501.6" y2="395.2" stroke="#333333" stroke-width="1.2" stroke-linecap="butt"/>
<text transform="translate(503.3 403.1) rotate(-45) scale(0.89 1)" font-size="8.8" text-anchor="end" fill="#383838" stroke="#383838" stroke-width="0.2">HbS</text>
<line x1="501.4" y1="285.6" x2="501.4" y2="292" stroke="#1a1a1a" stroke-width="0.95" stroke-linecap="butt"/>
<line x1="501.4" y1="292" x2="501.4" y2="298.4" stroke="#4a0a16" stroke-width="0.95" stroke-linecap="butt"/>
<line x1="498.8" y1="285.6" x2="504" y2="285.6" stroke="#1a1a1a" stroke-width="0.95" stroke-linecap="butt"/>
<line x1="498.8" y1="298.4" x2="504" y2="298.4" stroke="#4a0a16" stroke-width="0.95" stroke-linecap="butt"/>
<line x1="474.4" y1="374.4" x2="474.4" y2="379" stroke="#1a1a1a" stroke-width="0.95" stroke-linecap="butt"/>
<line x1="474.4" y1="379" x2="474.4" y2="383.6" stroke="#0c1a2c" stroke-width="0.95" stroke-linecap="butt"/>
<line x1="471.8" y1="374.4" x2="477" y2="374.4" stroke="#1a1a1a" stroke-width="0.95" stroke-linecap="butt"/>
<line x1="471.8" y1="383.6" x2="477" y2="383.6" stroke="#0c1a2c" stroke-width="0.95" stroke-linecap="butt"/>
<circle cx="501.4" cy="281.4" r="1.8" fill="#0a0a0a"/>
<circle cx="501.4" cy="286.6" r="1.8" fill="#0a0a0a"/>
<circle cx="501.4" cy="294" r="1.8" fill="#0a0a0a"/>
<circle cx="501.4" cy="307" r="1.8" fill="#0a0a0a"/>
<circle cx="471" cy="372.4" r="1.8" fill="#0a0a0a"/>
<circle cx="477.4" cy="372.4" r="1.8" fill="#0a0a0a"/>
<circle cx="471" cy="384.6" r="1.8" fill="#0a0a0a"/>
<circle cx="477" cy="382.4" r="1.8" fill="#0a0a0a"/>
<circle cx="412.4" cy="392" r="1.5" fill="#0a0a0a"/>
<circle cx="417.4" cy="392" r="1.5" fill="#0a0a0a"/>
<circle cx="422.4" cy="392" r="1.5" fill="#0a0a0a"/>
<circle cx="427.4" cy="392" r="1.5" fill="#0a0a0a"/>
<circle cx="439.6" cy="392" r="1.5" fill="#0a0a0a"/>
<circle cx="447" cy="392" r="1.5" fill="#0a0a0a"/>
<circle cx="454.6" cy="392" r="1.5" fill="#0a0a0a"/>
<path d="M419.6 230.7V229H501.6V230.7" fill="none" stroke="#444444" stroke-width="1.2"/>
<text x="461.4" y="228.79" font-size="6.8" text-anchor="middle" letter-spacing="1.05" fill="#222" stroke="#222" stroke-width="0.3">***</text>
<path d="M446.6 248.8V247.1H501.6V248.8" fill="none" stroke="#444444" stroke-width="1.2"/>
<text x="475.6" y="246.39" font-size="6.8" text-anchor="middle" letter-spacing="1.05" fill="#222" stroke="#222" stroke-width="0.3">***</text>
<path d="M474.2 258.8V257.1H501.6V258.8" fill="none" stroke="#444444" stroke-width="1.2"/>
<text x="488.6" y="256.89" font-size="6.8" text-anchor="middle" letter-spacing="1.05" fill="#222" stroke="#222" stroke-width="0.3">***</text>
<path d="M420 357.6V355.9H474.4V357.6" fill="none" stroke="#444444" stroke-width="1.2"/>
<text transform="translate(447.6 353.7) scale(0.92 1)" font-size="9" text-anchor="middle" fill="#383838" font-style="italic">NS</text>
<text transform="translate(366.3 326.65) rotate(-90) scale(0.88 1)" font-size="9.2" text-anchor="middle" fill="#383838" stroke="#383838" stroke-width="0.2">IL-6 (pg/ml)</text>
</g>
<g id="panelG">
<text transform="translate(0.4 446.55)" font-size="12" text-anchor="start" fill="#0d0d0d" font-weight="bold" stroke="#0d0d0d" stroke-width="0.45">G</text>
<rect x="91.12" y="561.5" width="13.2" height="2.1" fill="#f9e3dc"/>
<rect x="111.83" y="556" width="13.2" height="7.6" fill="#f6d3c9"/>
<rect x="132.54" y="536" width="13.2" height="27.6" fill="#efaa9b"/>
<rect x="153.25" y="527.4" width="13.2" height="36.2" fill="#e8867b"/>
<rect x="173.96" y="516.4" width="13.2" height="47.2" fill="#df6762"/>
<rect x="194.67" y="508.4" width="13.2" height="55.2" fill="#d14249"/>
<rect x="215.38" y="507" width="13.2" height="56.6" fill="#c8102e"/>
<line x1="42" y1="466" x2="42" y2="564.2" stroke="#333333" stroke-width="1.4" stroke-linecap="butt"/>
<line x1="39" y1="563.6" x2="42" y2="563.6" stroke="#333333" stroke-width="1.1" stroke-linecap="butt"/>
<text transform="translate(35.8 566.5) scale(0.95 1)" font-size="8.6" text-anchor="end" fill="#383838" stroke="#383838" stroke-width="0.2">0</text>
<line x1="39" y1="531.9" x2="42" y2="531.9" stroke="#333333" stroke-width="1.1" stroke-linecap="butt"/>
<text transform="translate(35.8 534.8) scale(0.95 1)" font-size="8.6" text-anchor="end" fill="#383838" stroke="#383838" stroke-width="0.2">500</text>
<line x1="39" y1="500.2" x2="42" y2="500.2" stroke="#333333" stroke-width="1.1" stroke-linecap="butt"/>
<text transform="translate(35.8 503.1) scale(0.95 1)" font-size="8.6" text-anchor="end" fill="#383838" stroke="#383838" stroke-width="0.2">1000</text>
<line x1="39" y1="468.5" x2="42" y2="468.5" stroke="#333333" stroke-width="1.1" stroke-linecap="butt"/>
<text transform="translate(35.8 471.4) scale(0.95 1)" font-size="8.6" text-anchor="end" fill="#383838" stroke="#383838" stroke-width="0.2">1500</text>
<line x1="40.5" y1="563.6" x2="236" y2="563.6" stroke="#333333" stroke-width="1.4" stroke-linecap="butt"/>
<line x1="56.3" y1="563.6" x2="56.3" y2="566.8" stroke="#333333" stroke-width="1.2" stroke-linecap="butt"/>
<text transform="translate(56.3 577.2) scale(0.93 1)" font-size="8.3" text-anchor="middle" fill="#383838" stroke="#383838" stroke-width="0.2">CTL</text>
<line x1="77.01" y1="563.6" x2="77.01" y2="566.8" stroke="#333333" stroke-width="1.2" stroke-linecap="butt"/>
<text transform="translate(77.01 577.2) scale(1.03 1)" font-size="8.3" text-anchor="middle" fill="#383838" stroke="#383838" stroke-width="0.2">0.625</text>
<line x1="97.72" y1="563.6" x2="97.72" y2="566.8" stroke="#333333" stroke-width="1.2" stroke-linecap="butt"/>
<text transform="translate(97.72 577.2) scale(1.03 1)" font-size="8.3" text-anchor="middle" fill="#383838" stroke="#383838" stroke-width="0.2">1.25</text>
<line x1="118.43" y1="563.6" x2="118.43" y2="566.8" stroke="#333333" stroke-width="1.2" stroke-linecap="butt"/>
<text transform="translate(118.43 577.2) scale(1.03 1)" font-size="8.3" text-anchor="middle" fill="#383838" stroke="#383838" stroke-width="0.2">2.5</text>
<line x1="139.14" y1="563.6" x2="139.14" y2="566.8" stroke="#333333" stroke-width="1.2" stroke-linecap="butt"/>
<text transform="translate(139.14 577.2) scale(1.03 1)" font-size="8.3" text-anchor="middle" fill="#383838" stroke="#383838" stroke-width="0.2">5</text>
<line x1="159.85" y1="563.6" x2="159.85" y2="566.8" stroke="#333333" stroke-width="1.2" stroke-linecap="butt"/>
<text transform="translate(159.85 577.2) scale(1.03 1)" font-size="8.3" text-anchor="middle" fill="#383838" stroke="#383838" stroke-width="0.2">10</text>
<line x1="180.56" y1="563.6" x2="180.56" y2="566.8" stroke="#333333" stroke-width="1.2" stroke-linecap="butt"/>
<text transform="translate(180.56 577.2) scale(1.03 1)" font-size="8.3" text-anchor="middle" fill="#383838" stroke="#383838" stroke-width="0.2">20</text>
<line x1="201.27" y1="563.6" x2="201.27" y2="566.8" stroke="#333333" stroke-width="1.2" stroke-linecap="butt"/>
<text transform="translate(201.27 577.2) scale(1.03 1)" font-size="8.3" text-anchor="middle" fill="#383838" stroke="#383838" stroke-width="0.2">40</text>
<line x1="221.98" y1="563.6" x2="221.98" y2="566.8" stroke="#333333" stroke-width="1.2" stroke-linecap="butt"/>
<text transform="translate(221.98 577.2) scale(1.03 1)" font-size="8.3" text-anchor="middle" fill="#383838" stroke="#383838" stroke-width="0.2">80</text>
<line x1="118.13" y1="551.9" x2="118.13" y2="556" stroke="#1a1a1a" stroke-width="0.95" stroke-linecap="butt"/>
<line x1="118.13" y1="556" x2="118.13" y2="556.9" stroke="#3a1512" stroke-width="0.95" stroke-linecap="butt"/>
<line x1="115.83" y1="551.9" x2="120.43" y2="551.9" stroke="#1a1a1a" stroke-width="0.95" stroke-linecap="butt"/>
<line x1="115.83" y1="556.9" x2="120.43" y2="556.9" stroke="#3a1512" stroke-width="0.95" stroke-linecap="butt"/>
<line x1="139.14" y1="530.4" x2="139.14" y2="536" stroke="#1d3461" stroke-width="0.95" stroke-linecap="butt"/>
<line x1="139.14" y1="536" x2="139.14" y2="540" stroke="#1d3461" stroke-width="0.95" stroke-linecap="butt"/>
<line x1="136.54" y1="530.4" x2="141.74" y2="530.4" stroke="#1d3461" stroke-width="0.95" stroke-linecap="butt"/>
<line x1="136.54" y1="540" x2="141.74" y2="540" stroke="#1d3461" stroke-width="0.95" stroke-linecap="butt"/>
<line x1="159.85" y1="523" x2="159.85" y2="527.4" stroke="#1a1a1a" stroke-width="0.95" stroke-linecap="butt"/>
<line x1="159.85" y1="527.4" x2="159.85" y2="531" stroke="#3a1512" stroke-width="0.95" stroke-linecap="butt"/>
<line x1="157.25" y1="523" x2="162.45" y2="523" stroke="#1a1a1a" stroke-width="0.95" stroke-linecap="butt"/>
<line x1="157.25" y1="531" x2="162.45" y2="531" stroke="#3a1512" stroke-width="0.95" stroke-linecap="butt"/>
<line x1="180.56" y1="513.4" x2="180.56" y2="516.4" stroke="#1a1a1a" stroke-width="0.95" stroke-linecap="butt"/>
<line x1="180.56" y1="516.4" x2="180.56" y2="519" stroke="#4a0a16" stroke-width="0.95" stroke-linecap="butt"/>
<line x1="178.06" y1="513.4" x2="183.06" y2="513.4" stroke="#1a1a1a" stroke-width="0.95" stroke-linecap="butt"/>
<line x1="178.06" y1="519" x2="183.06" y2="519" stroke="#4a0a16" stroke-width="0.95" stroke-linecap="butt"/>
<line x1="201.27" y1="503.4" x2="201.27" y2="508.4" stroke="#1a1a1a" stroke-width="0.95" stroke-linecap="butt"/>
<line x1="201.27" y1="508.4" x2="201.27" y2="513.4" stroke="#4a0a16" stroke-width="0.95" stroke-linecap="butt"/>
<line x1="198.67" y1="503.4" x2="203.87" y2="503.4" stroke="#1a1a1a" stroke-width="0.95" stroke-linecap="butt"/>
<line x1="198.67" y1="513.4" x2="203.87" y2="513.4" stroke="#4a0a16" stroke-width="0.95" stroke-linecap="butt"/>
<line x1="221.98" y1="503.6" x2="221.98" y2="507" stroke="#1a1a1a" stroke-width="0.95" stroke-linecap="butt"/>
<line x1="221.98" y1="507" x2="221.98" y2="510" stroke="#4a0a16" stroke-width="0.95" stroke-linecap="butt"/>
<line x1="219.38" y1="503.6" x2="224.58" y2="503.6" stroke="#1a1a1a" stroke-width="0.95" stroke-linecap="butt"/>
<line x1="219.38" y1="510" x2="224.58" y2="510" stroke="#4a0a16" stroke-width="0.95" stroke-linecap="butt"/>
<circle cx="50.6" cy="563.6" r="1.5" fill="#0a0a0a"/>
<circle cx="55.6" cy="563.8" r="1.5" fill="#0a0a0a"/>
<circle cx="61.4" cy="563.6" r="1.5" fill="#0a0a0a"/>
<circle cx="71.4" cy="563.4" r="1.5" fill="#0a0a0a"/>
<circle cx="76.6" cy="562" r="1.5" fill="#0a0a0a"/>
<circle cx="82" cy="563.4" r="1.5" fill="#0a0a0a"/>
<circle cx="92" cy="560.6" r="1.5" fill="#0a0a0a"/>
<circle cx="97.4" cy="559.2" r="1.5" fill="#0a0a0a"/>
<circle cx="102.6" cy="560.4" r="1.5" fill="#0a0a0a"/>
<circle cx="118.13" cy="547.1" r="1.65" fill="#0a0a0a"/>
<circle cx="118.13" cy="552.5" r="1.65" fill="#0a0a0a"/>
<circle cx="112.93" cy="559.1" r="1.65" fill="#0a0a0a"/>
<circle cx="123.53" cy="555.6" r="1.65" fill="#0a0a0a"/>
<circle cx="123.53" cy="558.8" r="1.65" fill="#0a0a0a"/>
<circle cx="118.13" cy="558.3" r="1.65" fill="#0a0a0a"/>
<circle cx="138.74" cy="508.7" r="1.65" fill="#0a0a0a"/>
<circle cx="138.74" cy="518.5" r="1.65" fill="#0a0a0a"/>
<circle cx="138.74" cy="524.6" r="1.65" fill="#0a0a0a"/>
<circle cx="138.74" cy="536.9" r="1.65" fill="#0a0a0a"/>
<circle cx="133.74" cy="543.9" r="1.65" fill="#0a0a0a"/>
<circle cx="133.74" cy="547.2" r="1.65" fill="#0a0a0a"/>
<circle cx="137.24" cy="546.5" r="1.65" fill="#0a0a0a"/>
<circle cx="141.24" cy="546.5" r="1.65" fill="#0a0a0a"/>
<circle cx="144.44" cy="546.5" r="1.65" fill="#0a0a0a"/>
<circle cx="154.65" cy="516.6" r="1.65" fill="#0a0a0a"/>
<circle cx="159.85" cy="516.6" r="1.65" fill="#0a0a0a"/>
<circle cx="165.25" cy="516.6" r="1.65" fill="#0a0a0a"/>
<circle cx="159.85" cy="520" r="1.65" fill="#0a0a0a"/>
<circle cx="159.85" cy="530.6" r="1.65" fill="#0a0a0a"/>
<circle cx="159.85" cy="538.4" r="1.65" fill="#0a0a0a"/>
<circle cx="165.25" cy="539" r="1.65" fill="#0a0a0a"/>
<circle cx="154.65" cy="541.6" r="1.65" fill="#0a0a0a"/>
<circle cx="180.56" cy="504" r="1.65" fill="#0a0a0a"/>
<circle cx="177.56" cy="511.4" r="1.65" fill="#0a0a0a"/>
<circle cx="183.56" cy="513.4" r="1.65" fill="#0a0a0a"/>
<circle cx="177.56" cy="516.6" r="1.65" fill="#0a0a0a"/>
<circle cx="183.56" cy="517" r="1.65" fill="#0a0a0a"/>
<circle cx="177.56" cy="518.6" r="1.65" fill="#0a0a0a"/>
<circle cx="183.56" cy="521" r="1.65" fill="#0a0a0a"/>
<circle cx="180.56" cy="525" r="1.65" fill="#0a0a0a"/>
<circle cx="201.27" cy="485.4" r="1.65" fill="#0a0a0a"/>
<circle cx="201.27" cy="490.4" r="1.65" fill="#0a0a0a"/>
<circle cx="201.27" cy="493.6" r="1.65" fill="#0a0a0a"/>
<circle cx="201.27" cy="511" r="1.65" fill="#0a0a0a"/>
<circle cx="201.27" cy="514.4" r="1.65" fill="#0a0a0a"/>
<circle cx="196.07" cy="519.4" r="1.65" fill="#0a0a0a"/>
<circle cx="198.67" cy="519.4" r="1.65" fill="#0a0a0a"/>
<circle cx="201.27" cy="519.4" r="1.65" fill="#0a0a0a"/>
<circle cx="203.87" cy="519.4" r="1.65" fill="#0a0a0a"/>
<circle cx="206.47" cy="519.4" r="1.65" fill="#0a0a0a"/>
<circle cx="221.98" cy="496.4" r="1.65" fill="#0a0a0a"/>
<circle cx="221.98" cy="501.4" r="1.65" fill="#0a0a0a"/>
<circle cx="221.98" cy="504.4" r="1.65" fill="#0a0a0a"/>
<circle cx="218.98" cy="509" r="1.65" fill="#0a0a0a"/>
<circle cx="224.98" cy="510.4" r="1.65" fill="#0a0a0a"/>
<circle cx="221.98" cy="508" r="1.65" fill="#0a0a0a"/>
<circle cx="221.98" cy="515.6" r="1.65" fill="#0a0a0a"/>
<text transform="translate(139.5 590.8) scale(0.8 1)" font-size="9.9" text-anchor="middle" fill="#383838" stroke="#383838" stroke-width="0.25">HbS (μM)</text>
<text transform="translate(9.8 515.05) rotate(-90) scale(0.87 1)" font-size="9.2" text-anchor="middle" fill="#383838" stroke="#383838" stroke-width="0.2">TNF-α (pg/ml)</text>
</g>
<g id="panelH">
<text transform="translate(255.7 446.55) scale(0.95 1)" font-size="12" text-anchor="start" fill="#0d0d0d" font-weight="bold" stroke="#0d0d0d" stroke-width="0.45">H</text>
<rect x="312" y="542" width="17.3" height="21.6" fill="#c8102e"/>
<rect x="343.02" y="509" width="17.3" height="54.6" fill="#c8102e"/>
<rect x="374.04" y="472" width="17.3" height="91.6" fill="#c8102e"/>
<rect x="405.06" y="493.4" width="17.3" height="70.2" fill="#c8102e"/>
<rect x="436.08" y="506" width="17.3" height="57.6" fill="#c8102e"/>
<rect x="467.1" y="528.4" width="17.3" height="35.2" fill="#c8102e"/>
<line x1="299.7" y1="448" x2="299.7" y2="564.2" stroke="#333333" stroke-width="1.4" stroke-linecap="butt"/>
<line x1="296.7" y1="563.6" x2="299.7" y2="563.6" stroke="#333333" stroke-width="1.1" stroke-linecap="butt"/>
<text transform="translate(293.5 566.5) scale(0.95 1)" font-size="8.6" text-anchor="end" fill="#383838" stroke="#383838" stroke-width="0.2">0</text>
<line x1="296.7" y1="541.1" x2="299.7" y2="541.1" stroke="#333333" stroke-width="1.1" stroke-linecap="butt"/>
<text transform="translate(293.5 544) scale(0.95 1)" font-size="8.6" text-anchor="end" fill="#383838" stroke="#383838" stroke-width="0.2">200</text>
<line x1="296.7" y1="518.6" x2="299.7" y2="518.6" stroke="#333333" stroke-width="1.1" stroke-linecap="butt"/>
<text transform="translate(293.5 521.5) scale(0.95 1)" font-size="8.6" text-anchor="end" fill="#383838" stroke="#383838" stroke-width="0.2">400</text>
<line x1="296.7" y1="496.1" x2="299.7" y2="496.1" stroke="#333333" stroke-width="1.1" stroke-linecap="butt"/>
<text transform="translate(293.5 499) scale(0.95 1)" font-size="8.6" text-anchor="end" fill="#383838" stroke="#383838" stroke-width="0.2">600</text>
<line x1="296.7" y1="473.6" x2="299.7" y2="473.6" stroke="#333333" stroke-width="1.1" stroke-linecap="butt"/>
<text transform="translate(293.5 476.5) scale(0.95 1)" font-size="8.6" text-anchor="end" fill="#383838" stroke="#383838" stroke-width="0.2">800</text>
<line x1="296.7" y1="451.1" x2="299.7" y2="451.1" stroke="#333333" stroke-width="1.1" stroke-linecap="butt"/>
<text transform="translate(293.5 454) scale(0.95 1)" font-size="8.6" text-anchor="end" fill="#383838" stroke="#383838" stroke-width="0.2">1000</text>
<line x1="298.5" y1="563.6" x2="494" y2="563.6" stroke="#333333" stroke-width="1.4" stroke-linecap="butt"/>
<line x1="320.6" y1="563.6" x2="320.6" y2="566.8" stroke="#333333" stroke-width="1.2" stroke-linecap="butt"/>
<text transform="translate(320.6 577.2) scale(1.03 1)" font-size="8.3" text-anchor="middle" fill="#383838" stroke="#383838" stroke-width="0.2">3</text>
<line x1="351.62" y1="563.6" x2="351.62" y2="566.8" stroke="#333333" stroke-width="1.2" stroke-linecap="butt"/>
<text transform="translate(351.62 577.2) scale(1.03 1)" font-size="8.3" text-anchor="middle" fill="#383838" stroke="#383838" stroke-width="0.2">6</text>
<line x1="382.64" y1="563.6" x2="382.64" y2="566.8" stroke="#333333" stroke-width="1.2" stroke-linecap="butt"/>
<text transform="translate(382.64 577.2) scale(1.03 1)" font-size="8.3" text-anchor="middle" fill="#383838" stroke="#383838" stroke-width="0.2">18</text>
<line x1="413.66" y1="563.6" x2="413.66" y2="566.8" stroke="#333333" stroke-width="1.2" stroke-linecap="butt"/>
<text transform="translate(413.66 577.2) scale(1.03 1)" font-size="8.3" text-anchor="middle" fill="#383838" stroke="#383838" stroke-width="0.2">24</text>
<line x1="444.68" y1="563.6" x2="444.68" y2="566.8" stroke="#333333" stroke-width="1.2" stroke-linecap="butt"/>
<text transform="translate(444.68 577.2) scale(1.03 1)" font-size="8.3" text-anchor="middle" fill="#383838" stroke="#383838" stroke-width="0.2">48</text>
<line x1="475.7" y1="563.6" x2="475.7" y2="566.8" stroke="#333333" stroke-width="1.2" stroke-linecap="butt"/>
<text transform="translate(475.7 577.2) scale(1.03 1)" font-size="8.3" text-anchor="middle" fill="#383838" stroke="#383838" stroke-width="0.2">72</text>
<line x1="320.6" y1="540.4" x2="320.6" y2="542" stroke="#1a1a1a" stroke-width="0.95" stroke-linecap="butt"/>
<line x1="320.6" y1="542" x2="320.6" y2="543.6" stroke="#4a0a16" stroke-width="0.95" stroke-linecap="butt"/>
<line x1="318.4" y1="540.4" x2="322.8" y2="540.4" stroke="#1a1a1a" stroke-width="0.95" stroke-linecap="butt"/>
<line x1="318.4" y1="543.6" x2="322.8" y2="543.6" stroke="#4a0a16" stroke-width="0.95" stroke-linecap="butt"/>
<line x1="351.62" y1="498.4" x2="351.62" y2="509" stroke="#1a1a1a" stroke-width="0.95" stroke-linecap="butt"/>
<line x1="351.62" y1="509" x2="351.62" y2="519.6" stroke="#4a0a16" stroke-width="0.95" stroke-linecap="butt"/>
<line x1="349.02" y1="498.4" x2="354.22" y2="498.4" stroke="#1a1a1a" stroke-width="0.95" stroke-linecap="butt"/>
<line x1="349.02" y1="519.6" x2="354.22" y2="519.6" stroke="#4a0a16" stroke-width="0.95" stroke-linecap="butt"/>
<line x1="382.64" y1="459.4" x2="382.64" y2="472" stroke="#1a1a1a" stroke-width="0.95" stroke-linecap="butt"/>
<line x1="382.64" y1="472" x2="382.64" y2="484.4" stroke="#4a0a16" stroke-width="0.95" stroke-linecap="butt"/>
<line x1="380.04" y1="459.4" x2="385.24" y2="459.4" stroke="#1a1a1a" stroke-width="0.95" stroke-linecap="butt"/>
<line x1="380.04" y1="484.4" x2="385.24" y2="484.4" stroke="#4a0a16" stroke-width="0.95" stroke-linecap="butt"/>
<line x1="413.66" y1="489.6" x2="413.66" y2="493.4" stroke="#1a1a1a" stroke-width="0.95" stroke-linecap="butt"/>
<line x1="413.66" y1="493.4" x2="413.66" y2="497.2" stroke="#4a0a16" stroke-width="0.95" stroke-linecap="butt"/>
<line x1="411.06" y1="489.6" x2="416.26" y2="489.6" stroke="#1a1a1a" stroke-width="0.95" stroke-linecap="butt"/>
<line x1="411.06" y1="497.2" x2="416.26" y2="497.2" stroke="#4a0a16" stroke-width="0.95" stroke-linecap="butt"/>
<line x1="444.68" y1="503" x2="444.68" y2="506" stroke="#1a1a1a" stroke-width="0.95" stroke-linecap="butt"/>
<line x1="444.68" y1="506" x2="444.68" y2="509" stroke="#4a0a16" stroke-width="0.95" stroke-linecap="butt"/>
<line x1="442.08" y1="503" x2="447.28" y2="503" stroke="#1a1a1a" stroke-width="0.95" stroke-linecap="butt"/>
<line x1="442.08" y1="509" x2="447.28" y2="509" stroke="#4a0a16" stroke-width="0.95" stroke-linecap="butt"/>
<line x1="475.7" y1="527" x2="475.7" y2="528.4" stroke="#1a1a1a" stroke-width="0.95" stroke-linecap="butt"/>
<line x1="475.7" y1="528.4" x2="475.7" y2="529.8" stroke="#4a0a16" stroke-width="0.95" stroke-linecap="butt"/>
<line x1="473.5" y1="527" x2="477.9" y2="527" stroke="#1a1a1a" stroke-width="0.95" stroke-linecap="butt"/>
<line x1="473.5" y1="529.8" x2="477.9" y2="529.8" stroke="#4a0a16" stroke-width="0.95" stroke-linecap="butt"/>
<circle cx="320.6" cy="538.4" r="1.8" fill="#0a0a0a"/>
<circle cx="317.4" cy="542.4" r="1.8" fill="#0a0a0a"/>
<circle cx="323.6" cy="542.4" r="1.8" fill="#0a0a0a"/>
<circle cx="351.6" cy="490.6" r="1.8" fill="#0a0a0a"/>
<circle cx="351.6" cy="509.4" r="1.8" fill="#0a0a0a"/>
<circle cx="351.6" cy="526" r="1.8" fill="#0a0a0a"/>
<circle cx="379.6" cy="458.4" r="1.8" fill="#0a0a0a"/>
<circle cx="385.6" cy="459.6" r="1.8" fill="#0a0a0a"/>
<circle cx="382.6" cy="496.4" r="1.8" fill="#0a0a0a"/>
<circle cx="413.6" cy="486.4" r="1.8" fill="#0a0a0a"/>
<circle cx="411" cy="497" r="1.8" fill="#0a0a0a"/>
<circle cx="416.4" cy="495.6" r="1.8" fill="#0a0a0a"/>
<circle cx="441.6" cy="501.6" r="1.8" fill="#0a0a0a"/>
<circle cx="447.6" cy="502.2" r="1.8" fill="#0a0a0a"/>
<circle cx="444.6" cy="513.4" r="1.8" fill="#0a0a0a"/>
<circle cx="472.6" cy="526.4" r="1.8" fill="#0a0a0a"/>
<circle cx="478.6" cy="527.6" r="1.8" fill="#0a0a0a"/>
<circle cx="475.6" cy="529" r="1.8" fill="#0a0a0a"/>
<text transform="translate(397.8 590.7) scale(0.8 1)" font-size="9.9" text-anchor="middle" fill="#383838" stroke="#383838" stroke-width="0.25">Duration of exposure to HbS (hours)</text>
<text transform="translate(267.7 505.95) rotate(-90) scale(0.87 1)" font-size="9.2" text-anchor="middle" fill="#383838" stroke="#383838" stroke-width="0.2">TNF-α (pg/ml)</text>
</g>
</svg>
</div>
</body>
</html>
